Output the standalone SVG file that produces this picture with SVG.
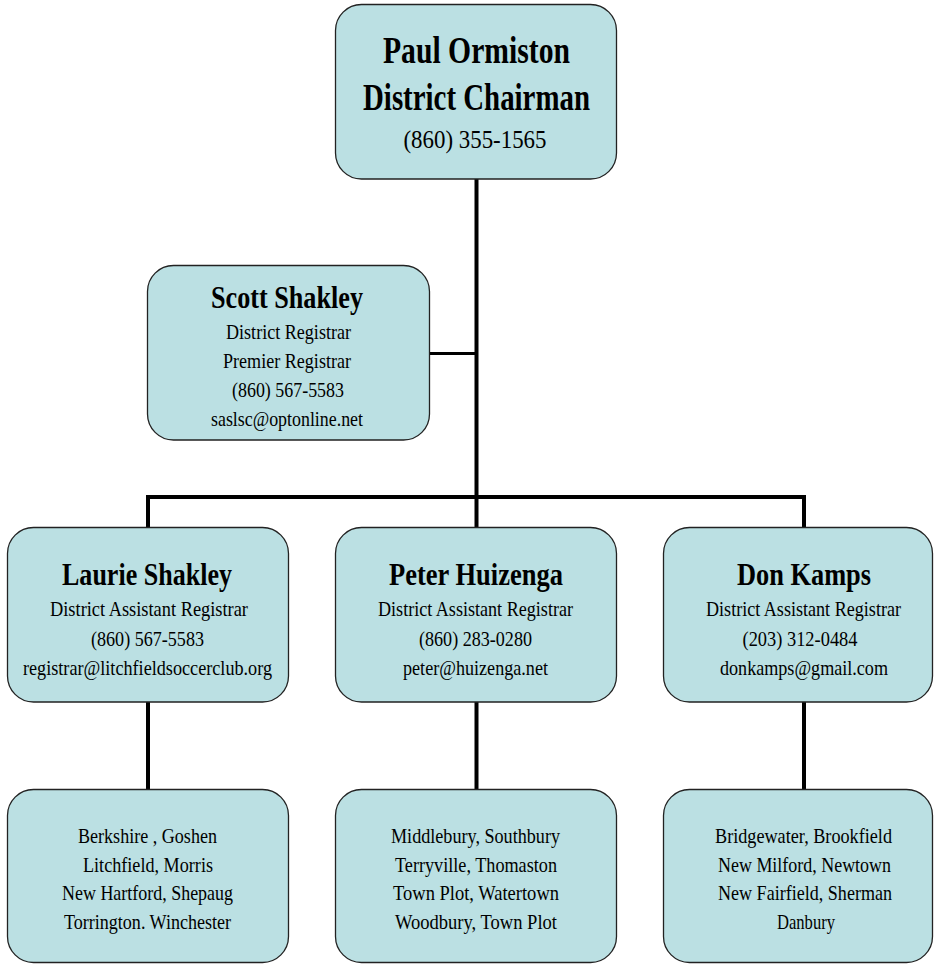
<svg xmlns="http://www.w3.org/2000/svg" width="934" height="965" viewBox="0 0 934 965">
<style>
.box{fill:#bbe0e3;stroke:#222;stroke-width:1.3}
text{font-family:"Liberation Serif","Times New Roman",serif;fill:#000;text-anchor:middle}
.b{font-weight:bold}
.t1{font-size:38px}
.t2{font-size:32px}
.r1{font-size:25px}
.r2{font-size:21px}
.conn{stroke:#000;stroke-width:4;fill:none}
.thin{stroke:#000;stroke-width:3;fill:none}
</style>
<rect width="934" height="965" fill="#fff"/>
<g id="connectors">
<path class="conn" d="M476.5,179 V528"/>
<path class="thin" d="M429,353.5 H476.5"/>
<path class="conn" d="M148,528 V497 H804 V528"/>
<path class="conn" d="M148,702 V789 M476.5,702 V789 M804,702 V789"/>
</g>
<g id="paul">
<rect class="box" x="335.5" y="4.5" width="281" height="174.5" rx="26"/>
<text class="b t1" x="476.5" y="63" textLength="187" lengthAdjust="spacingAndGlyphs">Paul Ormiston</text>
<text class="b t1" x="476.5" y="110" textLength="227" lengthAdjust="spacingAndGlyphs">District Chairman</text>
<text class="r1" x="475" y="148" textLength="143" lengthAdjust="spacingAndGlyphs">(860) 355-1565</text>
</g>
<g id="scott">
<rect class="box" x="147.5" y="265.5" width="282" height="174.5" rx="26"/>
<text class="b t2" x="287" y="308" textLength="152" lengthAdjust="spacingAndGlyphs">Scott Shakley</text>
<text class="r2" x="288.5" y="339" textLength="125" lengthAdjust="spacingAndGlyphs">District Registrar</text>
<text class="r2" x="287" y="368" textLength="128" lengthAdjust="spacingAndGlyphs">Premier Registrar</text>
<text class="r2" x="288" y="397" textLength="112" lengthAdjust="spacingAndGlyphs">(860) 567-5583</text>
<text class="r2" x="287" y="426" textLength="152" lengthAdjust="spacingAndGlyphs">saslsc@optonline.net</text>
</g>
<g id="laurie">
<rect class="box" x="7.5" y="527.5" width="281" height="174.5" rx="26"/>
<text class="b t2" x="147" y="584.5" textLength="170" lengthAdjust="spacingAndGlyphs">Laurie Shakley</text>
<text class="r2" x="149" y="616" textLength="198" lengthAdjust="spacingAndGlyphs">District Assistant Registrar</text>
<text class="r2" x="147.5" y="645.5" textLength="113" lengthAdjust="spacingAndGlyphs">(860) 567-5583</text>
<text class="r2" x="147.5" y="674.5" textLength="249" lengthAdjust="spacingAndGlyphs">registrar@litchfieldsoccerclub.org</text>
</g>
<g id="peter">
<rect class="box" x="335.5" y="527.5" width="281" height="174.5" rx="26"/>
<text class="b t2" x="476" y="584.5" textLength="174" lengthAdjust="spacingAndGlyphs">Peter Huizenga</text>
<text class="r2" x="475.5" y="616" textLength="195" lengthAdjust="spacingAndGlyphs">District Assistant Registrar</text>
<text class="r2" x="475.5" y="645.5" textLength="113" lengthAdjust="spacingAndGlyphs">(860) 283-0280</text>
<text class="r2" x="475.5" y="674.5" textLength="145" lengthAdjust="spacingAndGlyphs">peter@huizenga.net</text>
</g>
<g id="don">
<rect class="box" x="663.5" y="527.5" width="269" height="174.5" rx="26"/>
<text class="b t2" x="804" y="584.5" textLength="134" lengthAdjust="spacingAndGlyphs">Don Kamps</text>
<text class="r2" x="803.5" y="616" textLength="195" lengthAdjust="spacingAndGlyphs">District Assistant Registrar</text>
<text class="r2" x="800" y="645.5" textLength="115" lengthAdjust="spacingAndGlyphs">(203) 312-0484</text>
<text class="r2" x="804" y="674.5" textLength="168" lengthAdjust="spacingAndGlyphs">donkamps@gmail.com</text>
</g>
<g id="laurie-towns">
<rect class="box" x="7.5" y="789.5" width="281" height="173" rx="26"/>
<text class="r2" x="147.5" y="843" textLength="139" lengthAdjust="spacingAndGlyphs">Berkshire , Goshen</text>
<text class="r2" x="148" y="872" textLength="130" lengthAdjust="spacingAndGlyphs">Litchfield, Morris</text>
<text class="r2" x="147.5" y="900" textLength="171" lengthAdjust="spacingAndGlyphs">New Hartford, Shepaug</text>
<text class="r2" x="147.5" y="928.5" textLength="167" lengthAdjust="spacingAndGlyphs">Torrington. Winchester</text>
</g>
<g id="peter-towns">
<rect class="box" x="335.5" y="789.5" width="281" height="173" rx="26"/>
<text class="r2" x="475.5" y="843" textLength="169" lengthAdjust="spacingAndGlyphs">Middlebury, Southbury</text>
<text class="r2" x="476" y="872" textLength="162" lengthAdjust="spacingAndGlyphs">Terryville, Thomaston</text>
<text class="r2" x="476" y="900" textLength="166" lengthAdjust="spacingAndGlyphs">Town Plot, Watertown</text>
<text class="r2" x="476" y="928.5" textLength="162" lengthAdjust="spacingAndGlyphs">Woodbury, Town Plot</text>
</g>
<g id="don-towns">
<rect class="box" x="663.5" y="789.5" width="269" height="173" rx="26"/>
<text class="r2" x="803.5" y="843" textLength="177" lengthAdjust="spacingAndGlyphs">Bridgewater, Brookfield</text>
<text class="r2" x="804.5" y="872" textLength="173" lengthAdjust="spacingAndGlyphs">New Milford, Newtown</text>
<text class="r2" x="805" y="900" textLength="174" lengthAdjust="spacingAndGlyphs">New Fairfield, Sherman</text>
<text class="r2" x="806" y="928.5" textLength="58" lengthAdjust="spacingAndGlyphs">Danbury</text>
</g>
</svg>
